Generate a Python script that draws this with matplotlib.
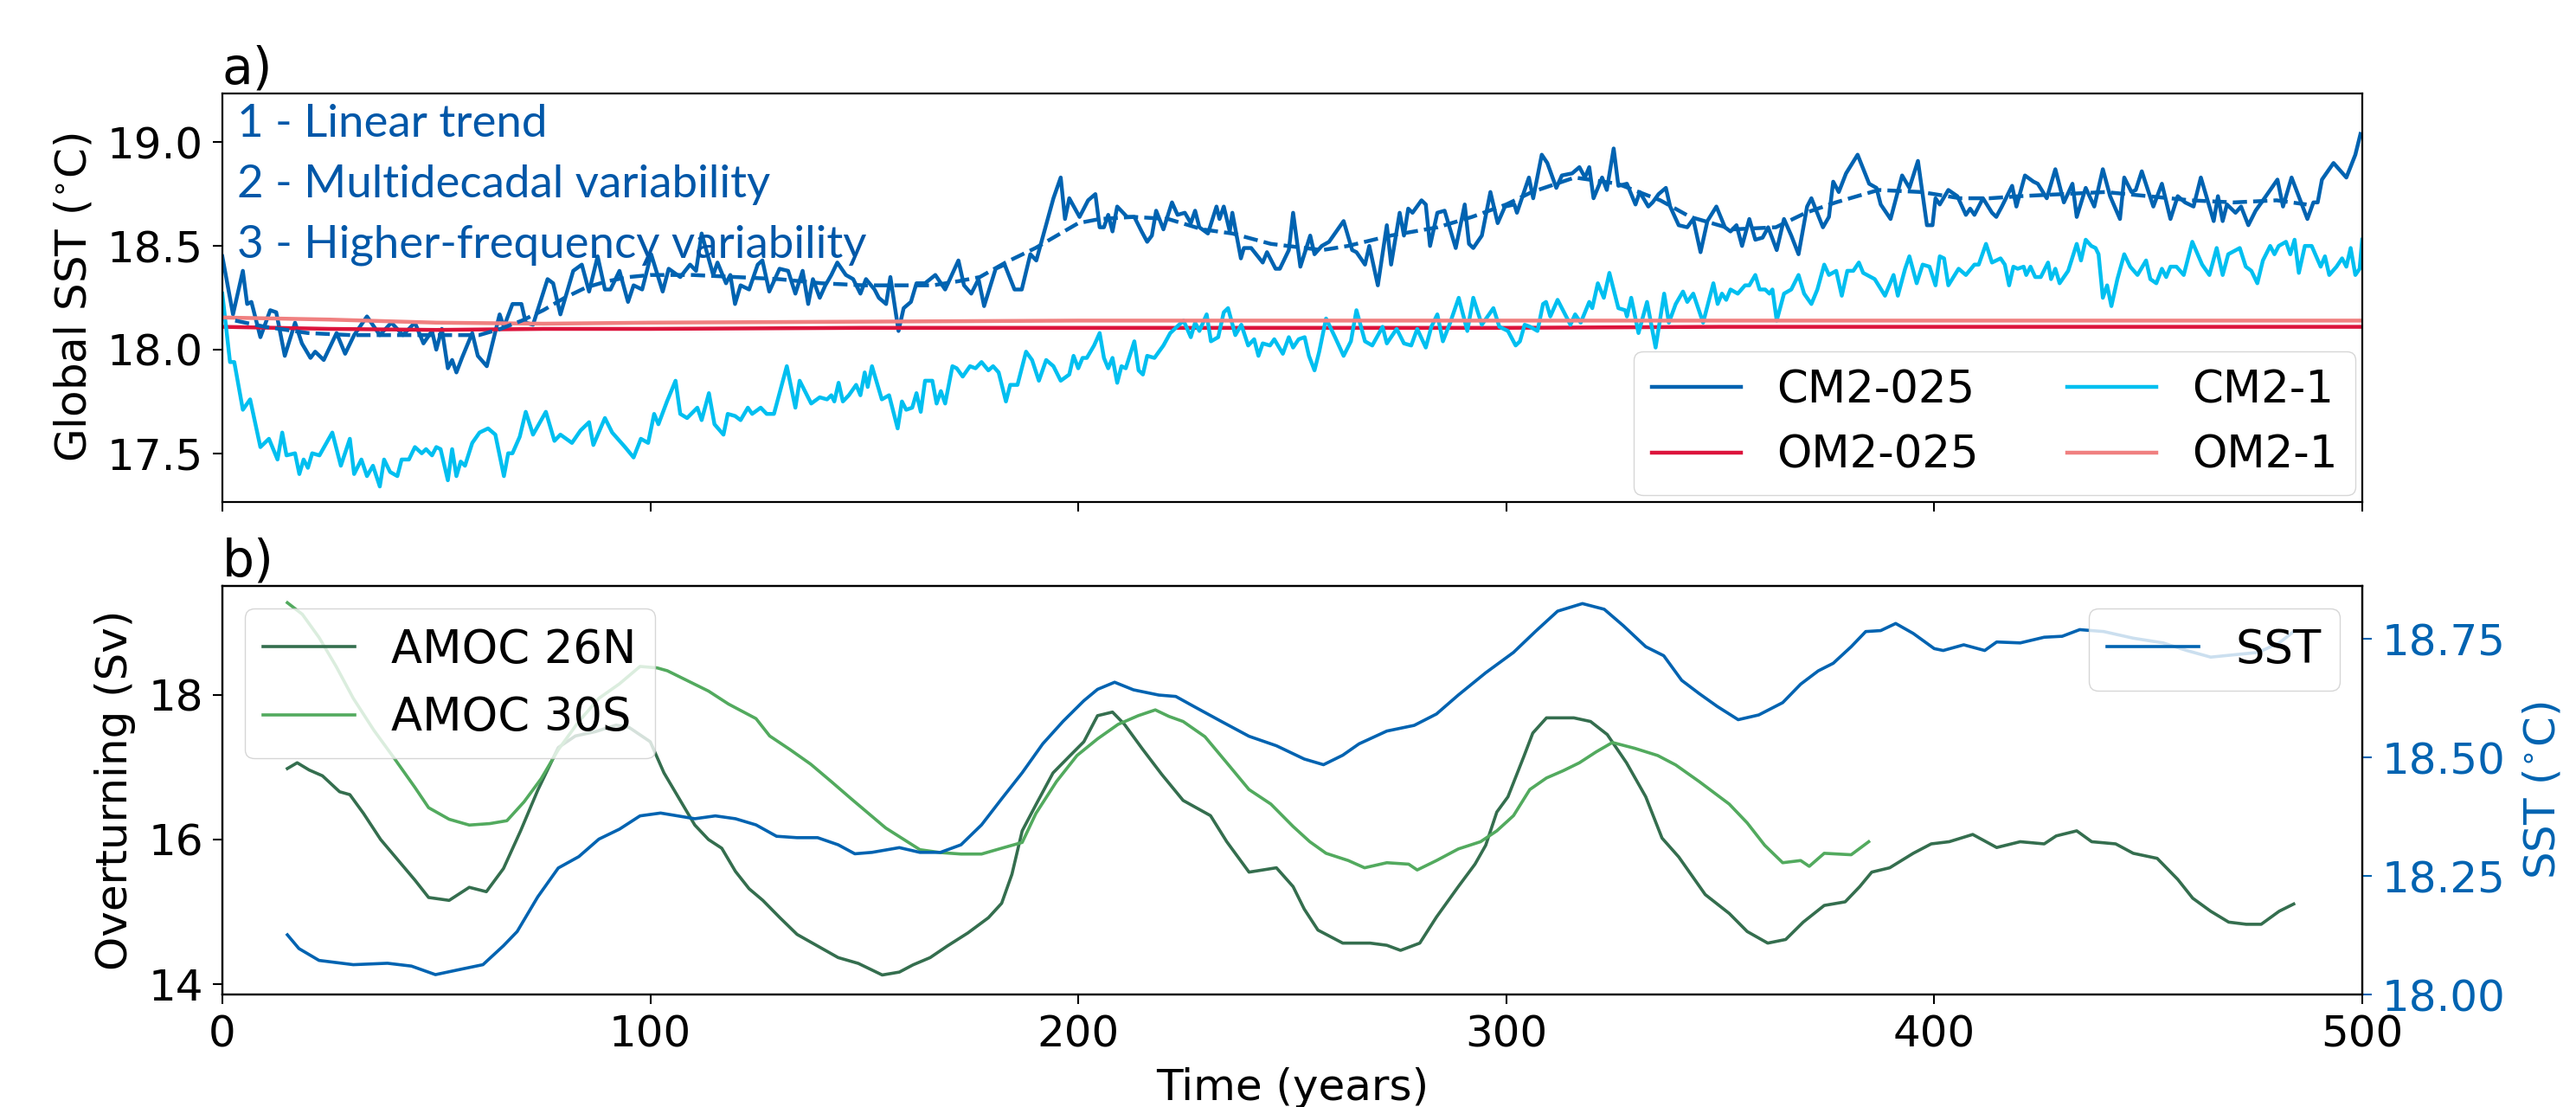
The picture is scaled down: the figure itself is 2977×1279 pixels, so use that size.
"""
Global SST in coupled vs ocean-only runs (a) and AMOC vs smoothed SST (b).
"""

import matplotlib.pyplot as plt

# ---- panel a data ----
cm2_025_years = [0, 2.5, 4.8, 5.8, 6.8, 8.9, 11.2, 12.6, 14.6, 17, 18.6, 20.6, 21.7, 23.7, 26.7, 28.7, 30.8, 33.8, 36.8, 39.5,
                 42.2, 45, 47, 49, 50, 51.3, 52.7, 53.7, 54.7, 56, 58.4, 59.7, 61.8, 64.8, 65.8, 67.8, 69.9, 70.9, 72.6, 76,
                 77.3, 79, 82, 84, 85.7, 87.7, 89.4, 90.7, 92.8, 94.8, 96.1, 98.1, 100.2, 102.9, 104.3, 107, 109.3, 110.7, 112, 114.7,
                 115.7, 117.7, 118.7, 119.8, 121.1, 123.1, 125.1, 126.2, 127.8, 130.2, 132.2, 133.9, 135.6, 136.9, 138, 139.6, 140.9, 142.3, 143.7, 145.7,
                 147.4, 149.1, 150.4, 152.4, 153.4, 155.1, 156.1, 158, 159.2, 160.9, 162.2, 164.2, 166.6, 168.9, 172, 173.3, 175, 176.7, 178, 180.7,
                 182.8, 185.1, 186.8, 188.8, 190.2, 194.2, 195.9, 196.9, 197.9, 200.3, 202.3, 204, 205, 206, 207, 208, 209.1, 211.4, 213.1, 214.8,
                 216.1, 217.2, 218.2, 219.9, 221.9, 223.2, 224.9, 226.3, 227.3, 228.3, 230.3, 232.3, 233, 234, 235.4, 236, 238, 238.7, 240.4, 243.1,
                 244.1, 246.1, 247.1, 249.2, 250.2, 251.9, 254.2, 255.2, 256.9, 258.6, 262, 264, 265, 267, 268, 270, 272.1, 273.1, 275.1, 276.1,
                 277.1, 278.1, 280.2, 281.2, 282.2, 283.9, 285.6, 288.2, 290.3, 291.3, 292.3, 294.3, 296.3, 298, 299.7, 301.9, 302.5, 305.3, 306.3, 308.3,
                 309.6, 311.7, 313, 315.4, 317.1, 318.4, 319.4, 320.4, 322.4, 323.5, 325.1, 326.2, 328.2, 330.2, 331.2, 333.2, 334.2, 335.6, 337.3, 338.3,
                 340.3, 342.3, 343.7, 345.4, 347, 349.1, 351.1, 352.4, 353.8, 355.1, 356.8, 358.2, 359.9, 361.2, 363.2, 364.9, 366.6, 368.3, 370.3, 371.3,
                 374, 375.4, 376.4, 377.7, 379.4, 382.1, 384.8, 386.5, 387.5, 389.8, 392.5, 394.2, 396.2, 398.3, 399.6, 400.3, 401.3, 403.3, 405.4, 407.4,
                 408.4, 409.4, 411.4, 413.5, 414.5, 415.8, 418.2, 419.2, 421.2, 423.2, 424.2, 426.3, 428.3, 430.3, 432.3, 433.3, 435.4, 437.4, 439.4, 441.1,
                 443.4, 444.4, 446.1, 447.1, 448.5, 451.2, 453.2, 455.2, 456.9, 458.6, 460.6, 462.3, 465.3, 466.3, 467.4, 468.4, 470.4, 471.7, 473.4, 475.1,
                 477.5, 480.2, 481.5, 483.5, 487.2, 488.6, 489.6, 490.6, 493.3, 496.3, 498.4, 499.6]
cm2_025_sst = [18.45, 18.17, 18.38, 18.22, 18.23, 18.06, 18.19, 18.18, 17.97, 18.13, 18.03, 17.96, 17.99, 17.95, 18.08, 17.98, 18.07, 18.16, 18.07, 18.13,
               18.07, 18.13, 18.03, 18.09, 18.00, 18.10, 17.91, 17.95, 17.89, 17.96, 18.08, 17.97, 17.92, 18.17, 18.11, 18.22, 18.22, 18.13, 18.12, 18.34,
               18.32, 18.17, 18.38, 18.41, 18.28, 18.45, 18.29, 18.29, 18.38, 18.23, 18.31, 18.29, 18.46, 18.28, 18.39, 18.35, 18.41, 18.38, 18.56, 18.36,
               18.42, 18.32, 18.36, 18.22, 18.31, 18.29, 18.41, 18.43, 18.28, 18.39, 18.38, 18.27, 18.38, 18.22, 18.34, 18.25, 18.31, 18.36, 18.42, 18.36,
               18.34, 18.27, 18.34, 18.29, 18.25, 18.22, 18.35, 18.09, 18.20, 18.23, 18.32, 18.32, 18.36, 18.29, 18.43, 18.31, 18.27, 18.34, 18.21, 18.39,
               18.41, 18.29, 18.29, 18.46, 18.43, 18.73, 18.83, 18.63, 18.73, 18.64, 18.72, 18.75, 18.59, 18.59, 18.65, 18.57, 18.69, 18.64, 18.64, 18.57,
               18.52, 18.55, 18.67, 18.58, 18.71, 18.65, 18.66, 18.61, 18.67, 18.59, 18.56, 18.69, 18.63, 18.69, 18.57, 18.66, 18.44, 18.49, 18.49, 18.42,
               18.47, 18.39, 18.39, 18.48, 18.66, 18.40, 18.55, 18.46, 18.50, 18.52, 18.62, 18.48, 18.47, 18.41, 18.50, 18.31, 18.60, 18.41, 18.66, 18.55,
               18.68, 18.66, 18.72, 18.70, 18.50, 18.66, 18.67, 18.49, 18.70, 18.51, 18.49, 18.55, 18.76, 18.61, 18.69, 18.70, 18.66, 18.83, 18.73, 18.94,
               18.90, 18.78, 18.84, 18.85, 18.88, 18.83, 18.88, 18.73, 18.83, 18.77, 18.97, 18.79, 18.80, 18.70, 18.76, 18.69, 18.71, 18.75, 18.78, 18.69,
               18.60, 18.59, 18.63, 18.47, 18.62, 18.69, 18.59, 18.57, 18.60, 18.50, 18.63, 18.53, 18.54, 18.59, 18.48, 18.63, 18.55, 18.46, 18.69, 18.73,
               18.59, 18.64, 18.81, 18.76, 18.85, 18.94, 18.80, 18.78, 18.70, 18.63, 18.84, 18.78, 18.91, 18.60, 18.60, 18.73, 18.70, 18.77, 18.74, 18.65,
               18.68, 18.65, 18.73, 18.66, 18.64, 18.69, 18.79, 18.69, 18.84, 18.81, 18.80, 18.73, 18.87, 18.71, 18.80, 18.64, 18.78, 18.69, 18.87, 18.74,
               18.63, 18.83, 18.76, 18.77, 18.86, 18.69, 18.80, 18.63, 18.74, 18.71, 18.69, 18.83, 18.62, 18.74, 18.62, 18.70, 18.66, 18.69, 18.60, 18.67,
               18.74, 18.82, 18.69, 18.83, 18.63, 18.71, 18.71, 18.82, 18.90, 18.83, 18.94, 19.04]

cm2_1_years = [0, 1.8, 2.8, 4.8, 6.5, 8.9, 10.9, 12.9, 14, 15, 17, 18, 19, 20, 21, 22.7, 25.7, 27.7, 29.8, 30.8,
               32.5, 33.8, 35.2, 36.8, 37.8, 39.2, 40.9, 41.9, 43.6, 45, 46.6, 47.6, 49, 50, 51, 52.7, 53.7, 54.7, 55.7, 56.7,
               58.4, 60.1, 62.1, 63.8, 65.8, 66.8, 67.8, 69.5, 70.9, 72.6, 75.6, 77.6, 79, 81.7, 83.7, 85.7, 86.7, 89.4, 91.1, 94.1,
               96.1, 97.8, 99.5, 100.9, 101.9, 103.9, 105.9, 107, 108.6, 111, 112, 113.7, 115, 117.1, 118.1, 119.8, 121.1, 122.8, 123.8, 125.8,
               127.2, 128.9, 130.2, 131.9, 133.9, 134.9, 137.6, 139.6, 141.3, 142.3, 143, 144, 145, 146.4, 148.1, 149.1, 150.1, 150.8, 151.8, 154.1,
               155.8, 157.8, 158.8, 159.8, 161.2, 162.2, 163.2, 164.2, 165.9, 166.9, 167.9, 168.9, 170.6, 171.6, 173, 174.7, 176, 177.4, 179, 180.1,
               181.4, 183.1, 184.1, 185.8, 187.8, 189.2, 190.8, 192.5, 194.2, 195.9, 197.9, 198.9, 200, 201, 202, 203.7, 205, 206, 207, 208,
               209.1, 210.1, 211.1, 213.1, 214.1, 215.1, 216.1, 217.8, 219.9, 221.5, 224.6, 226.3, 227.3, 228.3, 230, 231, 232.7, 234, 235, 236.7,
               238.1, 239.7, 241.1, 242.1, 243.1, 244.8, 245.8, 247.8, 249.2, 250.2, 251.5, 252.9, 253.9, 255.2, 256.3, 257.9, 260, 262, 263.7, 265,
               267, 268.7, 271.1, 272.1, 274.4, 276.1, 277.8, 279.2, 281.2, 282.5, 283.9, 285.2, 286.9, 288.9, 290.9, 292.3, 294.3, 297, 298.4, 300.4,
               302.2, 303.2, 304.3, 305.6, 307.3, 308.6, 309.3, 310.3, 312, 315, 316.1, 317.4, 319.4, 320.1, 321.4, 322.8, 324.1, 326.2, 327.8, 328.2,
               329.2, 330.9, 332.9, 334.9, 336.9, 338, 339.6, 341.3, 342.3, 343.7, 346, 348.4, 349.4, 350.4, 351.4, 352.4, 354.1, 355.8, 356.8, 358.2,
               359.2, 360.5, 361.5, 362.2, 363.2, 364.9, 366.6, 368.3, 369.6, 371.3, 372.7, 374.3, 375.4, 377.1, 378.4, 379.7, 381.1, 382.4, 383.4, 386.1,
               388.5, 390.5, 391.5, 393.2, 394.2, 395.9, 397.3, 398.9, 400.3, 401.3, 402.3, 403.3, 405.7, 407.4, 409.4, 410.4, 412.1, 413.5, 415.5, 416.5,
               417.5, 418.5, 419.5, 420.9, 421.5, 422.5, 423.6, 424.9, 426.6, 427.3, 428.3, 429.3, 431.3, 433.3, 434.3, 435.4, 436.7, 437.7, 438.4, 439.4,
               440.4, 441.4, 442.8, 444.4, 445.8, 447.5, 449.5, 450.5, 451.9, 453.2, 454.2, 455.2, 456.6, 458.3, 460.3, 462.6, 464.3, 466, 467.4, 468.7,
               471.4, 472.8, 474.1, 475.5, 476.8, 478.5, 479.5, 480.5, 482.2, 483.2, 484.2, 485.2, 486.6, 488.2, 490.3, 491.3, 492.3, 494, 495.3, 496.3,
               497.3, 498.4, 499.4, 500]
cm2_1_sst = [18.27, 17.94, 17.94, 17.71, 17.76, 17.53, 17.57, 17.47, 17.60, 17.49, 17.50, 17.40, 17.47, 17.43, 17.50, 17.49, 17.60, 17.44, 17.57, 17.40,
             17.47, 17.39, 17.44, 17.34, 17.47, 17.41, 17.39, 17.47, 17.47, 17.53, 17.50, 17.52, 17.49, 17.53, 17.52, 17.37, 17.52, 17.39, 17.46, 17.44,
             17.55, 17.60, 17.62, 17.59, 17.39, 17.50, 17.50, 17.58, 17.70, 17.59, 17.70, 17.56, 17.59, 17.55, 17.61, 17.65, 17.54, 17.67, 17.60, 17.53,
             17.48, 17.57, 17.55, 17.69, 17.64, 17.75, 17.85, 17.69, 17.67, 17.72, 17.66, 17.79, 17.64, 17.59, 17.69, 17.68, 17.66, 17.72, 17.69, 17.72,
             17.69, 17.69, 17.79, 17.92, 17.72, 17.85, 17.74, 17.77, 17.76, 17.78, 17.75, 17.84, 17.75, 17.78, 17.83, 17.78, 17.89, 17.82, 17.92, 17.76,
             17.78, 17.62, 17.75, 17.71, 17.72, 17.79, 17.70, 17.85, 17.85, 17.74, 17.80, 17.74, 17.92, 17.91, 17.87, 17.92, 17.91, 17.94, 17.90, 17.92,
             17.89, 17.75, 17.83, 17.83, 17.99, 17.95, 17.85, 17.95, 17.92, 17.85, 17.88, 17.97, 17.91, 17.96, 17.96, 18.02, 18.08, 17.96, 17.91, 17.96,
             17.84, 17.92, 17.91, 18.04, 17.90, 17.88, 17.97, 17.96, 18.02, 18.08, 18.14, 18.06, 18.13, 18.09, 18.17, 18.04, 18.06, 18.18, 18.20, 18.07,
             18.12, 18.02, 18.05, 17.97, 18.03, 18.02, 18.05, 17.98, 18.06, 18.01, 18.05, 18.06, 17.97, 17.90, 17.99, 18.15, 18.06, 17.97, 18.04, 18.19,
             18.04, 18.02, 18.11, 18.03, 18.10, 18.03, 18.02, 18.10, 18.01, 18.11, 18.17, 18.04, 18.13, 18.25, 18.09, 18.25, 18.12, 18.20, 18.11, 18.09,
             18.02, 18.04, 18.12, 18.11, 18.09, 18.22, 18.23, 18.16, 18.24, 18.12, 18.17, 18.13, 18.23, 18.20, 18.32, 18.25, 18.37, 18.20, 18.19, 18.16,
             18.25, 18.08, 18.23, 18.01, 18.27, 18.13, 18.22, 18.28, 18.23, 18.27, 18.13, 18.32, 18.22, 18.27, 18.24, 18.29, 18.27, 18.31, 18.31, 18.36,
             18.29, 18.29, 18.27, 18.29, 18.14, 18.27, 18.29, 18.36, 18.27, 18.22, 18.29, 18.41, 18.36, 18.38, 18.26, 18.38, 18.38, 18.42, 18.37, 18.34,
             18.26, 18.36, 18.26, 18.39, 18.45, 18.32, 18.41, 18.40, 18.31, 18.45, 18.44, 18.31, 18.39, 18.36, 18.41, 18.41, 18.51, 18.42, 18.44, 18.41,
             18.31, 18.40, 18.39, 18.40, 18.36, 18.40, 18.35, 18.35, 18.42, 18.34, 18.39, 18.32, 18.38, 18.51, 18.43, 18.53, 18.50, 18.49, 18.46, 18.25,
             18.31, 18.21, 18.34, 18.46, 18.40, 18.36, 18.43, 18.34, 18.32, 18.39, 18.35, 18.40, 18.40, 18.36, 18.52, 18.41, 18.36, 18.49, 18.36, 18.46,
             18.49, 18.40, 18.38, 18.32, 18.43, 18.50, 18.46, 18.50, 18.52, 18.46, 18.53, 18.37, 18.50, 18.50, 18.40, 18.45, 18.36, 18.40, 18.44, 18.40,
             18.49, 18.36, 18.39, 18.53]

# trend + multidecadal fit of CM2-025 (dashed)
trend_years = [3, 10, 20, 30, 40, 50, 60, 65, 70, 75, 80, 85, 90, 95, 100, 110, 120, 130, 140, 150,
               160, 166, 172, 177, 183, 190, 195, 200, 205, 213, 221, 229, 236, 245, 257, 263, 273, 284, 292, 300,
               306, 316, 326, 336, 343, 353, 363, 370, 377, 387, 397, 406, 413, 420, 430, 440, 450, 460, 470, 480, 487]
trend_sst = [18.14, 18.11, 18.08, 18.07, 18.07, 18.07, 18.07, 18.10, 18.14, 18.19, 18.25, 18.30, 18.33, 18.35, 18.36, 18.36, 18.35, 18.34, 18.32, 18.31,
             18.31, 18.31, 18.33, 18.35, 18.42, 18.49, 18.55, 18.61, 18.63, 18.64, 18.63, 18.58, 18.56, 18.51, 18.48, 18.50, 18.55, 18.59, 18.64, 18.70,
             18.76, 18.83, 18.80, 18.72, 18.64, 18.58, 18.59, 18.66, 18.71, 18.77, 18.76, 18.73, 18.73, 18.74, 18.75, 18.76, 18.74, 18.72, 18.71, 18.72, 18.70]

om2_years = [0, 25, 50, 75, 100, 150, 200, 250, 300, 350, 400, 450, 500]
om2_025_sst = [18.11, 18.10, 18.095, 18.10, 18.10, 18.105, 18.105, 18.105, 18.105, 18.11, 18.11, 18.11, 18.11]
om2_1_sst = [18.155, 18.145, 18.13, 18.125, 18.13, 18.135, 18.14, 18.14, 18.14, 18.14, 18.14, 18.14, 18.14]

# ---- panel b data ----
sst_years = [15.2, 17.9, 22.6, 30.6, 38.6, 44.2, 49.8, 56.1, 60.9, 65.7, 68.9, 73.7, 78.5, 83.3, 88, 92.8, 97.6, 102.4, 110.4, 115.2,
             119.9, 124.7, 129.5, 134.3, 139.1, 143.9, 147.8, 151.8, 158.2, 163, 167.8, 172.6, 177.4, 182.1, 186.9, 191.7, 196.5, 201.3, 204.5, 208.5,
             212.9, 218.8, 222.8, 227, 233.5, 239.9, 246.3, 252.8, 257.3, 261.8, 265.6, 272.1, 278.5, 283.7, 288.8, 295.2, 301.7, 306.8, 312, 317.8,
             322.9, 327.4, 332.6, 336.8, 341, 345.1, 349.3, 354.2, 359, 364.6, 368.8, 372.9, 376.4, 380.6, 384, 387.5, 391, 395.1, 400, 402.1,
             406.9, 411.8, 414.6, 420.1, 425.7, 429.9, 434, 439.6, 446.5, 453.5, 459, 464.6, 470.1, 475.7, 480.6, 484]
sst_smooth = [18.126, 18.097, 18.072, 18.063, 18.066, 18.060, 18.042, 18.054, 18.063, 18.103, 18.133, 18.206, 18.267, 18.291, 18.328, 18.349, 18.377, 18.383, 18.371, 18.377,
              18.371, 18.358, 18.334, 18.331, 18.331, 18.316, 18.297, 18.300, 18.310, 18.300, 18.300, 18.316, 18.358, 18.413, 18.468, 18.529, 18.577, 18.620, 18.644, 18.659,
              18.643, 18.632, 18.629, 18.608, 18.576, 18.545, 18.525, 18.497, 18.485, 18.505, 18.529, 18.556, 18.568, 18.592, 18.632, 18.679, 18.722, 18.766, 18.809, 18.825,
              18.813, 18.778, 18.734, 18.715, 18.663, 18.635, 18.608, 18.580, 18.590, 18.616, 18.655, 18.683, 18.699, 18.734, 18.766, 18.768, 18.783, 18.762, 18.730, 18.726,
              18.738, 18.726, 18.744, 18.742, 18.754, 18.756, 18.770, 18.766, 18.752, 18.742, 18.726, 18.712, 18.717, 18.722, 18.742, 18.766]

amoc26_years = [15.2, 17.5, 20.3, 23.4, 27.4, 29.8, 33, 37, 41, 45, 48.2, 53, 57.7, 61.7, 65.7, 69.7, 73.7, 78.5, 82.5, 87.2,
                92, 95, 100, 103.2, 107.2, 110.4, 113.6, 116.7, 119.9, 123.1, 126.3, 130.3, 134.3, 139.1, 143.9, 148.6, 154.2, 158.2, 161.4, 165.4,
                169.4, 174.2, 179, 182.1, 184.5, 186.9, 190.1, 194.1, 198.1, 201.3, 204.5, 208, 210.8, 215, 219.5, 224.5, 230.9, 234.7, 239.9, 246.3,
                250.2, 252.8, 256, 261.8, 268.2, 272.1, 275.3, 279.8, 283.7, 288.8, 292.7, 295.2, 297.8, 300.4, 304.2, 306.2, 309.4, 315.8, 319.7, 323.6,
                328.1, 332.6, 336.4, 340.3, 346.5, 352.1, 356.3, 361.1, 365.3, 369.4, 374.3, 379.2, 382.6, 385.4, 389.6, 395.1, 399.3, 403.5, 409, 414.6,
                420.1, 425.7, 428.5, 433.3, 436.8, 442.4, 446.5, 452.1, 456.9, 460.4, 464.6, 468.8, 472.9, 476.4, 480.6, 484]
amoc26 = [16.98, 17.06, 16.96, 16.88, 16.66, 16.62, 16.36, 16.00, 15.72, 15.44, 15.20, 15.16, 15.34, 15.28, 15.60, 16.12, 16.68, 17.27, 17.43, 17.49,
          17.58, 17.55, 17.35, 16.92, 16.52, 16.20, 16.00, 15.88, 15.56, 15.32, 15.16, 14.92, 14.69, 14.53, 14.37, 14.29, 14.13, 14.17, 14.27, 14.37,
          14.53, 14.71, 14.92, 15.12, 15.52, 16.12, 16.48, 16.92, 17.16, 17.35, 17.71, 17.76, 17.59, 17.25, 16.90, 16.54, 16.33, 15.97, 15.55, 15.61,
          15.35, 15.04, 14.75, 14.57, 14.57, 14.54, 14.47, 14.57, 14.93, 15.35, 15.66, 15.92, 16.38, 16.59, 17.16, 17.47, 17.68, 17.68, 17.63, 17.45,
          17.06, 16.59, 16.02, 15.76, 15.24, 14.98, 14.73, 14.57, 14.62, 14.86, 15.09, 15.14, 15.35, 15.55, 15.61, 15.81, 15.94, 15.97, 16.07, 15.89,
          15.97, 15.94, 16.05, 16.12, 15.97, 15.94, 15.81, 15.74, 15.45, 15.19, 15.01, 14.86, 14.83, 14.83, 15.01, 15.11]

amoc30_years = [15.2, 18.7, 22.6, 26.6, 30.6, 35.4, 40.2, 45, 48.2, 53, 57.7, 62.5, 66.5, 70.5, 74.5, 78.5, 83.3, 88, 92.8, 97.6,
                101.6, 104, 108.8, 113.6, 118.3, 124.7, 127.9, 132.7, 137.5, 142.3, 147, 151.8, 155, 158.2, 163, 167.8, 172.6, 177.4, 182.1, 186.9,
                190.1, 194.9, 199.7, 204.5, 209.3, 214, 218, 221.2, 224.5, 229.6, 234.7, 239.9, 245, 250.2, 254.1, 257.9, 263.1, 266.9, 272.1, 277.2,
                279.2, 283.7, 288.8, 294, 297.8, 301.7, 305.5, 309.4, 313.3, 317.1, 321, 324.8, 330, 335.4, 339.6, 345.1, 352.1, 356.3, 360.4, 364.6,
                368.8, 370.8, 374.3, 380.6, 384.7]
amoc30 = [19.27, 19.11, 18.79, 18.39, 17.95, 17.51, 17.12, 16.72, 16.44, 16.28, 16.20, 16.22, 16.26, 16.52, 16.84, 17.24, 17.63, 17.95, 18.15, 18.39,
          18.37, 18.33, 18.19, 18.05, 17.87, 17.67, 17.43, 17.24, 17.04, 16.80, 16.56, 16.32, 16.16, 16.04, 15.86, 15.82, 15.80, 15.80, 15.88, 15.96,
          16.36, 16.80, 17.16, 17.39, 17.59, 17.71, 17.79, 17.70, 17.63, 17.42, 17.06, 16.69, 16.49, 16.18, 15.97, 15.81, 15.71, 15.61, 15.68, 15.66,
          15.58, 15.71, 15.87, 15.97, 16.12, 16.33, 16.69, 16.85, 16.95, 17.06, 17.21, 17.34, 17.26, 17.16, 17.03, 16.80, 16.49, 16.23, 15.92, 15.68,
          15.71, 15.63, 15.81, 15.79, 15.97]

notes = ["1 - Linear trend", "2 - Multidecadal variability", "3 - Higher-frequency variability"]

# colours
c_cm025 = "#0063B1"
c_cm1 = "#00BFF0"
c_om025 = "#DC143C"
c_om1 = "#F08080"
c_26n = "#346E4E"
c_30s = "#52AA5E"

FS = 36
plt.rcParams["font.size"] = FS
plt.rcParams["axes.linewidth"] = 1.6
plt.rcParams["xtick.major.size"] = 8
plt.rcParams["ytick.major.size"] = 8
plt.rcParams["xtick.major.width"] = 1.5
plt.rcParams["ytick.major.width"] = 1.5
plt.rcParams["xtick.major.pad"] = 8
plt.rcParams["ytick.major.pad"] = 8
plt.rcParams["axes.labelpad"] = 10

fig = plt.figure(figsize=(29.77, 12.79), dpi=100)
axa = fig.add_axes([0.0863, 0.5465, 0.8307, 0.369])
axb = fig.add_axes([0.0863, 0.1016, 0.8307, 0.369], sharex=axa)

# panel a
axa.plot(cm2_025_years, cm2_025_sst, color=c_cm025, lw=3.2, label="CM2-025")
axa.plot(om2_years, om2_025_sst, color=c_om025, lw=3.2, label="OM2-025")
axa.plot(cm2_1_years, cm2_1_sst, color=c_cm1, lw=3.2, label="CM2-1")
axa.plot(om2_years, om2_1_sst, color=c_om1, lw=3.2, label="OM2-1")
axa.plot(trend_years, trend_sst, color=c_cm025, lw=3.2, linestyle="--")
axa.set_xlim(0, 500)
axa.set_ylim(17.265, 19.235)
axa.set_yticks([17.5, 18.0, 18.5, 19.0])
axa.set_ylabel(r"Global SST ($^{\circ}$C)")
axa.set_title("a)", loc="left", fontsize=42)
axa.tick_params(labelbottom=False)
axa.text(0.007, 0.975, "\n".join(notes), transform=axa.transAxes, va="top", ha="left",
         family=["Lato", "DejaVu Sans"], fontsize=38, color="#0057A8", linespacing=1.6)
axa.legend(loc="lower right", ncol=2, fontsize=37, columnspacing=2.0, borderaxespad=0.15)

# panel b
axb.plot(amoc26_years, amoc26, color=c_26n, lw=2.6, label="AMOC 26N")
axb.plot(amoc30_years, amoc30, color=c_30s, lw=2.6, label="AMOC 30S")
axb.set_ylim(13.86, 19.5)
axb.set_yticks([14, 16, 18])
axb.set_ylabel("Overturning (Sv)")
axb.set_xlabel("Time (years)")
axb.set_xticks([0, 100, 200, 300, 400, 500])
axb.set_title("b)", loc="left", fontsize=42)
axb.legend(loc="upper left", fontsize=38)

ax2 = axb.twinx()
ax2.plot(sst_years, sst_smooth, color=c_cm025, lw=2.6, label="SST")
ax2.set_ylim(18.0, 18.862)
ax2.set_yticks([18.0, 18.25, 18.5, 18.75])
ax2.set_ylabel(r"SST ($^{\circ}$C)", color=c_cm025, labelpad=14)
ax2.tick_params(axis="y", colors=c_cm025)
ax2.spines["right"].set_color("black")
ax2.legend(loc="upper right", fontsize=38)

plt.savefig("out.png", dpi=100)
